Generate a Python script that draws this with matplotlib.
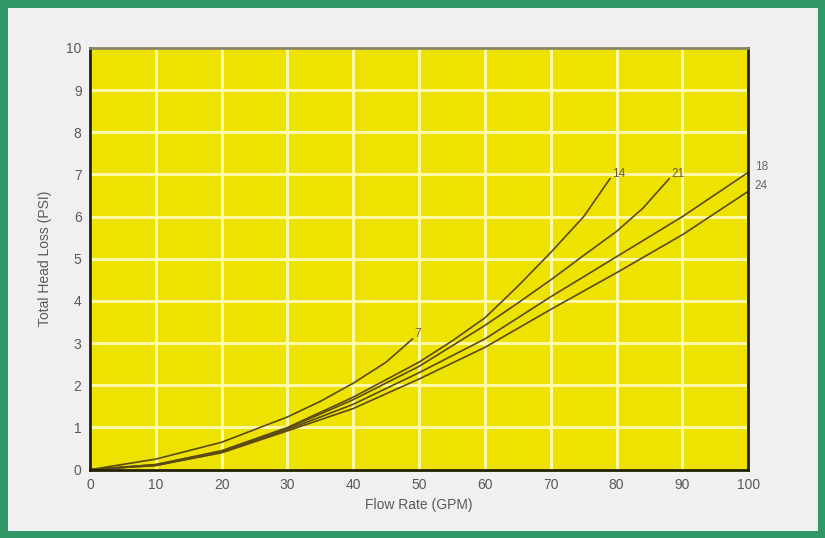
import numpy as np
import matplotlib
matplotlib.use('Agg')
import matplotlib.pyplot as plt
from matplotlib.patches import Rectangle

plt.rcParams['font.family'] = ['Liberation Sans', 'DejaVu Sans']

# curve data (flow GPM -> head loss PSI)
flow_7 = [0, 10, 20, 30, 35, 40, 45, 49]
loss_7 = [0, 0.25, 0.65, 1.25, 1.62, 2.05, 2.55, 3.1]

flow_14 = [0, 10, 20, 30, 40, 50, 55, 60, 65, 70, 75, 79]
loss_14 = [0, 0.12, 0.45, 1.0, 1.72, 2.55, 3.05, 3.6, 4.35, 5.15, 6.0, 6.9]

flow_21 = [0, 10, 20, 30, 40, 50, 60, 65, 70, 75, 80, 84, 88]
loss_21 = [0, 0.12, 0.44, 0.98, 1.66, 2.45, 3.42, 3.95, 4.5, 5.08, 5.65, 6.2, 6.9]

flow_18 = [0, 10, 20, 30, 40, 50, 60, 70, 80, 90, 100]
loss_18 = [0, 0.1, 0.42, 0.95, 1.55, 2.3, 3.1, 4.1, 5.05, 6.0, 7.05]

flow_24 = [0, 10, 20, 30, 40, 50, 60, 70, 80, 90, 100]
loss_24 = [0, 0.1, 0.4, 0.92, 1.45, 2.15, 2.9, 3.8, 4.67, 5.57, 6.6]

labels = ['7', '14', '21', '18', '24']
x_ticks = list(range(0, 101, 10))
y_ticks = list(range(0, 11))

fig = plt.figure(figsize=(8.25, 5.38), dpi=100)
fig.patch.set_facecolor('#f1eff1')
# green frame round the picture
fig.patches.append(Rectangle((0.004, 0.006), 0.992, 0.988, transform=fig.transFigure,
                             fill=False, edgecolor='#2f9866', linewidth=6.5))

ax = fig.add_axes([0.109, 0.127, 0.798, 0.784])
ax.set_facecolor('#ede200')
ax.set_xlim(0, 100)
ax.set_ylim(0, 10)
ax.set_xticks(x_ticks)
ax.set_yticks(y_ticks)
ax.grid(True, color='#fff9a8', linewidth=2.2)
ax.set_axisbelow(True)
ax.tick_params(length=0, labelsize=10, labelcolor='#5a5a5a', pad=6)

for sp in ['left', 'bottom', 'right']:
    ax.spines[sp].set_color('#222200')
    ax.spines[sp].set_linewidth(2)
ax.spines['top'].set_color('#8a8560')
ax.spines['top'].set_linewidth(2)

line_col = '#5b4b12'
series = [(flow_7, loss_7), (flow_14, loss_14), (flow_21, loss_21),
          (flow_18, loss_18), (flow_24, loss_24)]
for (fx, fy) in series:
    ax.plot(fx, fy, color=line_col, linewidth=1.2, clip_on=False)

# curve labels at the line ends
ax.text(flow_7[-1] + 0.3, loss_7[-1] + 0.05, labels[0], fontsize=8.5, color='#6a5a30')
ax.text(flow_14[-1] + 0.3, loss_14[-1] + 0.05, labels[1], fontsize=8.5, color='#6a5a30')
ax.text(flow_21[-1] + 0.3, loss_21[-1] + 0.05, labels[2], fontsize=8.5, color='#6a5a30')
ax.text(flow_18[-1] + 1.0, loss_18[-1] + 0.05, labels[3], fontsize=8.5, color='#666666', clip_on=False)
ax.text(flow_24[-1] + 1.0, loss_24[-1] + 0.05, labels[4], fontsize=8.5, color='#666666', clip_on=False)

ax.set_xlabel('Flow Rate (GPM)', fontsize=10, color='#5a5a5a', labelpad=4)
ax.set_ylabel('Total Head Loss (PSI)', fontsize=10, color='#5a5a5a', labelpad=10)

fig.savefig('out.png', dpi=100, facecolor=fig.get_facecolor())
